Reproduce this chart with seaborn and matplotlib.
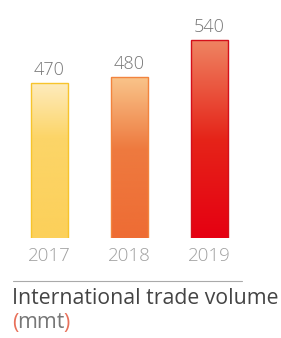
import numpy as np
import pandas as pd
import matplotlib
matplotlib.use("Agg")
import matplotlib.pyplot as plt
from matplotlib.colors import LinearSegmentedColormap
from matplotlib.lines import Line2D
import seaborn as sns

# chart data
years = ["2017", "2018", "2019"]
volumes = [470, 480, 540]

# gradient stops (top -> bottom) and outline for each bar
bar_stops = [
    [(0.0, "#FEEBBD"), (0.35, "#FCD568"), (1.0, "#FCD05A")],
    [(0.0, "#F9C58B"), (0.45, "#EE7A3F"), (1.0, "#EE6C34")],
    [(0.0, "#EF8462"), (0.50, "#E52419"), (1.0, "#E60012")],
]
edge_colors = ["#F7C42C", "#F2843E", "#D4101A"]

sns.set_style("white")
plt.rcParams["font.family"] = ["Open Sans", "DejaVu Sans"]

df = pd.DataFrame({"year": years, "volume": volumes})

fig = plt.figure(figsize=(2.81, 3.38), dpi=100)
ax = fig.add_axes([0.0338, 0.2959, 0.854, 0.645])

sns.barplot(data=df, x="year", y="volume", color="#FCD05A", width=0.47,
            ax=ax, zorder=2)

ax.set_xlim(-0.5, 2.5)
ax.set_ylim(217.7, 572.6)

grad = np.linspace(0, 1, 256).reshape(-1, 1)
for patch, stops, ec, val in zip(ax.patches, bar_stops, edge_colors, volumes):
    x0, y0 = patch.get_x(), patch.get_y()
    w, h = patch.get_width(), patch.get_height()
    cmap = LinearSegmentedColormap.from_list("g", stops)
    img = ax.imshow(grad, cmap=cmap, aspect="auto", origin="upper",
                    extent=(x0, x0 + w, ax.get_ylim()[0], y0 + h), zorder=1)
    img.set_clip_path(patch)
    patch.set_facecolor("none")
    patch.set_edgecolor(ec)
    patch.set_linewidth(1.0)
    ax.text(x0 + w / 2, y0 + h + 6, str(val), ha="center", va="bottom",
            fontsize=13, fontweight="light", color="#777777")

ax.set_ylim(217.7, 572.6)
ax.set_xlabel("")
ax.set_ylabel("")
ax.set_yticks([])
ax.tick_params(axis="x", length=0, pad=6.5, labelsize=13.5, labelcolor="#A0A0A0")
for lbl in ax.get_xticklabels():
    lbl.set_fontweight("light")
sns.despine(ax=ax, left=True, bottom=True)

fig.add_artist(Line2D([13 / 281, 242 / 281], [1 - 281 / 338, 1 - 281 / 338],
                      color="#AAAAAA", linewidth=0.8))
fig.text(12 / 281, 1 - 298 / 338, "International trade volume", ha="left",
         va="center", fontsize=15.3, color="#444444")
t1 = fig.text(12 / 281, 1 - 323 / 338, "(", ha="left", va="center",
              fontsize=15.3, color="#E8705A")
fig.canvas.draw()
r = fig.canvas.get_renderer()
bb = t1.get_window_extent(r)
t2 = fig.text((bb.x1 - 1) / fig.bbox.width, 1 - 323 / 338, "mmt", ha="left",
              va="center", fontsize=15.3, color="#777777")
bb2 = t2.get_window_extent(r)
fig.text((bb2.x1 - 1) / fig.bbox.width, 1 - 323 / 338, ")", ha="left",
         va="center", fontsize=15.3, color="#E8705A")

fig.savefig("out.png", dpi=100)
